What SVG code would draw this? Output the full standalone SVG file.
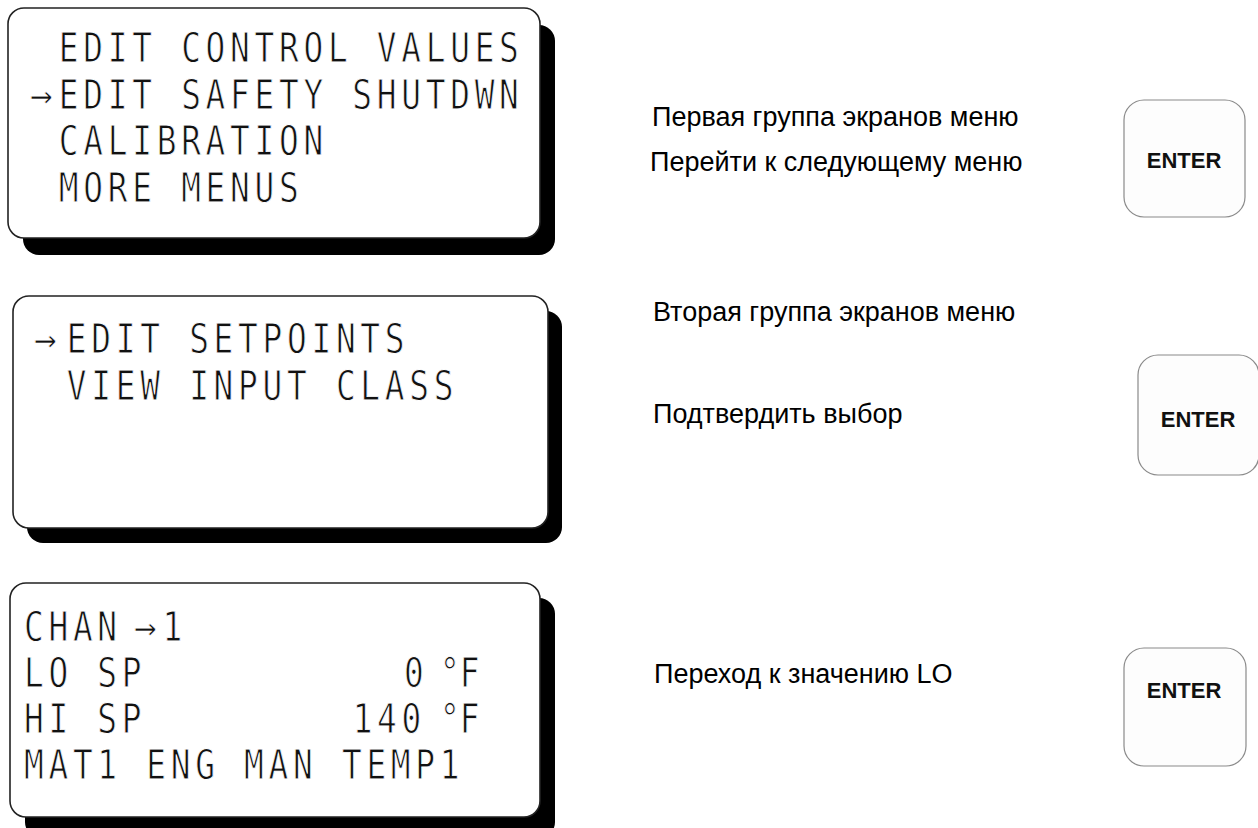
<svg xmlns="http://www.w3.org/2000/svg" width="1258" height="828" viewBox="0 0 1258 828">
<style>
.shadow{fill:#000}
.panel{fill:#fff;stroke:#222;stroke-width:1.6}
.lcd{font-family:"DejaVu Sans Mono","Liberation Mono",monospace;font-size:41px;letter-spacing:5.9px;fill:#111;stroke:#fff;stroke-width:0.9}
.arw{font-family:"DejaVu Sans Mono","Liberation Mono",monospace;font-size:38px;fill:#111;stroke:#fff;stroke-width:0.8}
.tight{letter-spacing:0}
.lbl{font-family:"Liberation Sans",Arial,sans-serif;font-size:27px;fill:#000}
.key{fill:#fdfdfd;stroke:#8a8a8a;stroke-width:1.2}
.keytxt{font-family:"Liberation Sans",Arial,sans-serif;font-size:22px;font-weight:bold;fill:#111}
</style>
<rect width="1258" height="828" fill="#fff"/>
<g id="screen1">
<rect class="shadow" x="23" y="25" width="532" height="230" rx="16"/>
<rect class="panel" x="8" y="8" width="532" height="230" rx="16"/>
<text class="arw" x="30" y="108">→</text>
<g transform="scale(0.8,1)">
<text class="lcd" x="73.6" y="62">EDIT CONTROL VALUES</text>
<text class="lcd" x="73.6" y="109">EDIT SAFETY SHUTDWN</text>
<text class="lcd" x="73.6" y="155">CALIBRATION</text>
<text class="lcd" x="73.6" y="202">MORE MENUS</text>
</g>
</g>
<g id="screen2">
<rect class="shadow" x="27" y="311" width="535" height="232" rx="16"/>
<rect class="panel" x="13" y="296" width="535" height="232" rx="16"/>
<text class="arw" x="34" y="352">→</text>
<g transform="scale(0.8,1)">
<text class="lcd" x="83.6" y="353">EDIT SETPOINTS</text>
<text class="lcd" x="83.6" y="400">VIEW INPUT CLASS</text>
</g>
</g>
<g id="screen3">
<rect class="shadow" x="25" y="598" width="530" height="240" rx="16"/>
<rect class="panel" x="10" y="583" width="530" height="234" rx="16"/>
<text class="arw" x="134" y="640">→</text>
<g transform="scale(0.8,1)">
<text class="lcd" x="30" y="641">CHAN</text>
<text class="lcd" x="203" y="641">1</text>
<text class="lcd" x="30" y="687">LO SP</text>
<text class="lcd" x="505" y="687">0</text>
<text class="lcd tight" x="550" y="687">°F</text>
<text class="lcd" x="30" y="733">HI SP</text>
<text class="lcd" x="440.8" y="733">140</text>
<text class="lcd tight" x="550" y="733">°F</text>
<text class="lcd" x="30" y="779">MAT1 ENG MAN TEMP1</text>
</g>
</g>
<g id="labels">
<text class="lbl" x="652" y="126">Первая группа экранов меню</text>
<text class="lbl" x="650" y="171">Перейти к следующему меню</text>
<text class="lbl" x="653" y="321">Вторая группа экранов меню</text>
<text class="lbl" x="653" y="423">Подтвердить выбор</text>
<text class="lbl" x="654" y="683">Переход к значению LO</text>
</g>
<g id="key1">
<rect class="key" x="1124" y="100" width="121" height="117" rx="20"/>
<text class="keytxt" x="1184" y="168" text-anchor="middle">ENTER</text>
</g>
<g id="key2">
<rect class="key" x="1138" y="355" width="121" height="120" rx="20"/>
<text class="keytxt" x="1198" y="427" text-anchor="middle">ENTER</text>
</g>
<g id="key3">
<rect class="key" x="1124" y="648" width="122" height="118" rx="20"/>
<text class="keytxt" x="1184" y="698" text-anchor="middle">ENTER</text>
</g>
</svg>
